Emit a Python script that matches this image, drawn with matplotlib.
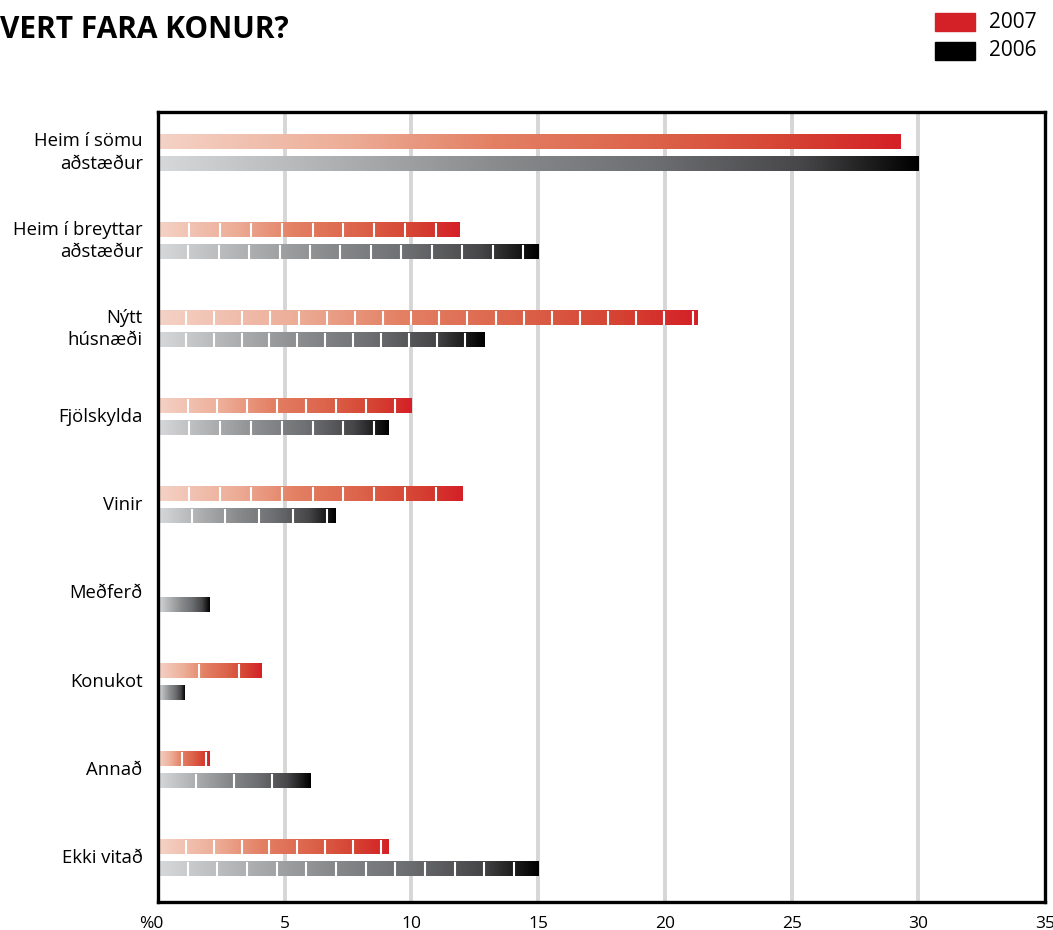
import numpy as np
import matplotlib
matplotlib.use("Agg")
import matplotlib.pyplot as plt
import matplotlib.transforms as mtransforms
from matplotlib.colors import LinearSegmentedColormap
from matplotlib.patches import Rectangle

plt.rcParams['font.family'] = ['Open Sans', 'DejaVu Sans']

# data
categories = ["Heim í sömu\naðstæður", "Heim í breyttar\naðstæður", "Nýtt\nhúsnæði",
              "Fjölskylda", "Vinir", "Meðferð", "Konukot", "Annað", "Ekki vitað"]
values2007 = [29.3, 11.9, 21.3, 10.0, 12.0, 0.0, 4.1, 2.05, 9.1]
values2006 = [30.0, 15.0, 12.9, 9.1, 7.0, 2.05, 1.05, 6.0, 15.0]
xticks = [0, 5, 10, 15, 20, 25, 30, 35]
xticklabels = ["%0", "5", "10", "15", "20", "25", "30", "35"]

# spacing of the white separators inside the bars (0 = none)
step2007 = [0, 1.22, 1.11, 1.17, 1.22, 0, 1.6, 0.95, 1.1]
step2006 = [0, 1.2, 1.1, 1.22, 1.33, 0, 0, 1.5, 1.17]

red_cmap = LinearSegmentedColormap.from_list(
    "r", [(0, "#f4d2c6"), (0.25, "#edae98"), (0.45, "#e38064"),
          (0.66, "#dc644b"), (0.86, "#d54132"), (1, "#d42027")])
blk_cmap = LinearSegmentedColormap.from_list(
    "k", [(0, "#d7d8da"), (0.45, "#888a8c"), (0.65, "#6e6f72"),
          (0.85, "#464648"), (1, "#000000")])

fig = plt.figure(figsize=(10.53, 9.3), dpi=100)
ax = fig.add_axes([0.150, 0.030, 0.8425, 0.8496])

bar_h = 0.16
off = 0.125
grad = np.linspace(0, 1, 256).reshape(1, -1)


def draw_bar(y, v, cmap, step):
    if v <= 0:
        return
    ax.imshow(grad, cmap=cmap, extent=[0, v, y + bar_h / 2, y - bar_h / 2],
              aspect='auto', zorder=3, interpolation='bilinear')
    if step > 0:
        xs = np.arange(step, v - 0.05, step)
        ax.vlines(xs, y - bar_h / 2, y + bar_h / 2, color='white', lw=1.5,
                  zorder=4, capstyle='butt')


for i in range(len(categories)):
    draw_bar(i - off, values2007[i], red_cmap, step2007[i])
    draw_bar(i + off, values2006[i], blk_cmap, step2006[i])
    ax.text(-0.6, i, categories[i], ha='right', va='center', fontsize=13.3,
            linespacing=1.3)

for x in xticks[1:-1]:
    ax.axvline(x, color='#d6d6d6', lw=2.8, zorder=1)

ax.set_xlim(0, 35)
ax.set_ylim(8.5, -0.46)
ax.set_xticks(xticks)
ax.set_xticklabels(xticklabels, fontsize=12.5)
ax.tick_params(axis='x', length=0, pad=10)
lab0 = ax.get_xticklabels()[0]
lab0.set_ha('right')
lab0.set_transform(lab0.get_transform() +
                   mtransforms.ScaledTranslation(6 / 100, 0, fig.dpi_scale_trans))
ax.set_yticks([])
for s in ax.spines.values():
    s.set_linewidth(2.4)
    s.set_zorder(5)

fig.text(0.0, 1 - 30 / 930, "VERT FARA KONUR?", fontsize=21.5, fontweight='bold',
         ha='left', va='center')

# legend
fig.patches.append(Rectangle((935 / 1053, 1 - 31 / 930), 40 / 1053, 18 / 930,
                             transform=fig.transFigure, color='#d42027'))
fig.patches.append(Rectangle((935 / 1053, 1 - 60 / 930), 40 / 1053, 18 / 930,
                             transform=fig.transFigure, color='#000000'))
fig.text(989 / 1053, 1 - 22 / 930, "2007", fontsize=15, va='center')
fig.text(989 / 1053, 1 - 51 / 930, "2006", fontsize=15, va='center')

fig.savefig("out.png", dpi=100)
